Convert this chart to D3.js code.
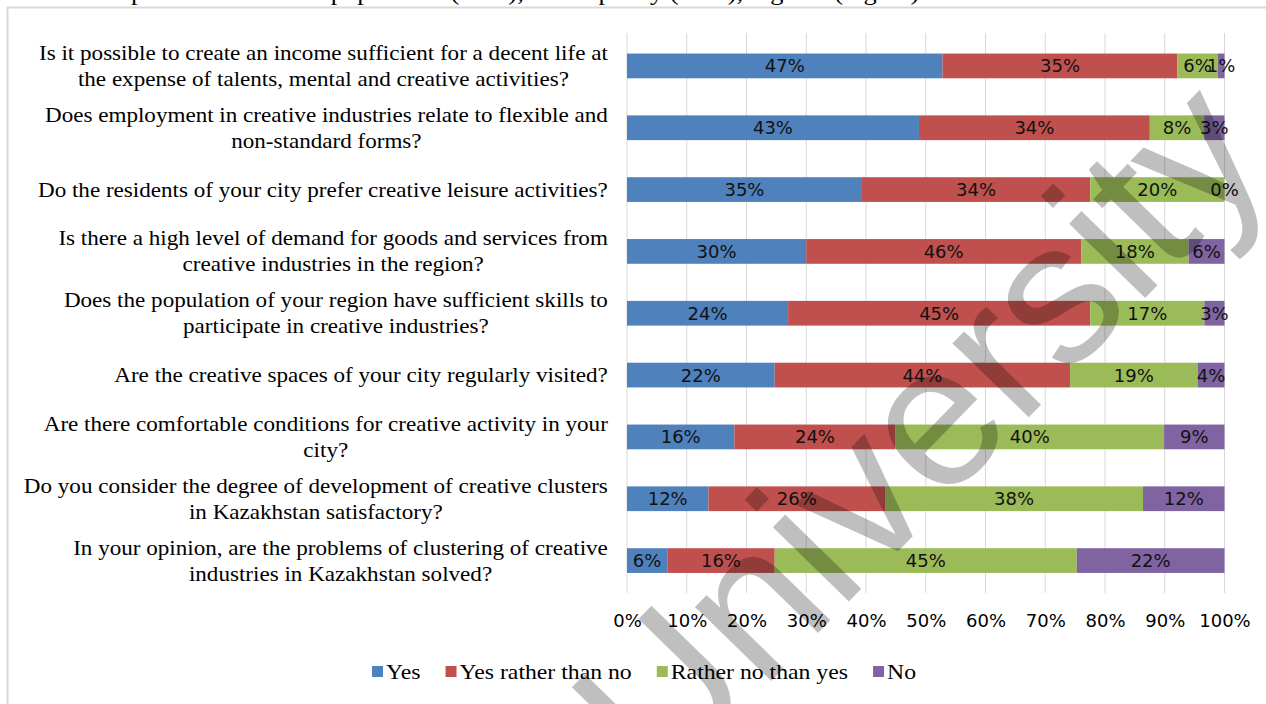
<!DOCTYPE html>
<html>
<head>
<meta charset="utf-8">
<script src="https://cdn.jsdelivr.net/npm/d3@7"></script>
<style>
  html, body { margin: 0; padding: 0; background: #fff; overflow: hidden; }
  svg { display: block; }
</style>
</head>
<body>
<svg id="chart" width="1266" height="704"></svg>
<script>
// Survey questions, each already broken into the lines they are printed on
const questions = [
  ["Is it possible to create an income sufficient for a decent life at", "the expense of talents, mental and creative activities?"],
  ["Does employment in creative industries relate to flexible and", "non-standard forms?"],
  ["Do the residents of your city prefer creative leisure activities?"],
  ["Is there a high level  of demand for goods and services from", "creative industries in the region?"],
  ["Does the population of your region have sufficient skills to", "participate in creative industries?"],
  ["Are the creative spaces of your city regularly visited?"],
  ["Are there comfortable conditions for creative activity in your", "city?"],
  ["Do you consider the degree of development of creative clusters", "in Kazakhstan satisfactory?"],
  ["In your opinion, are the problems of clustering of creative", "industries in Kazakhstan solved?"]
];

// Answer shares, in %
const yesValues        = [47, 43, 35, 30, 24, 22, 16, 12, 6];
const yesRatherValues  = [35, 34, 34, 46, 45, 44, 24, 26, 16];
const ratherNoValues   = [6, 8, 20, 18, 17, 19, 40, 38, 45];
const noValues         = [1, 3, 0, 6, 3, 4, 9, 12, 22];

const seriesNames  = ["Yes", "Yes rather than no", "Rather no than yes", "No"];
const seriesColors = ["#4f81bd", "#c0504d", "#9bbb59", "#8064a2"];
const tickLabels   = ["0%", "10%", "20%", "30%", "40%", "50%", "60%", "70%", "80%", "90%", "100%"];

const captionText = "Opinion of the local population (in %), and capacity (in %), regions (region)";
const watermarkText = "University";

// ---------------------------------------------------------------------------
const svg = d3.select("#chart");
const serif = "'Liberation Serif', 'Times New Roman', serif";
const sans = "'DejaVu Sans', Verdana, sans-serif";

const rows = questions.map((q, i) => ({
  index: i,
  [seriesNames[0]]: yesValues[i],
  [seriesNames[1]]: yesRatherValues[i],
  [seriesNames[2]]: ratherNoValues[i],
  [seriesNames[3]]: noValues[i]
}));

// 100% stacked layout: each row is normalised to its own total
const stacked = d3.stack().keys(seriesNames).offset(d3.stackOffsetExpand)(rows);

const x = d3.scaleLinear().domain([0, 1]).range([627, 1224.5]);
const y = d3.scaleBand().domain(d3.range(questions.length))
  .range([35, 591.5]).paddingInner(0.6).paddingOuter(0.3);
const color = d3.scaleOrdinal().domain(seriesNames).range(seriesColors);

svg.append("rect").attr("width", 1266).attr("height", 704).attr("fill", "#fff");

// Caption line running off the top edge
svg.append("text")
  .attr("transform", "translate(112,0) scale(1.15,1)")
  .attr("font-family", serif).attr("font-size", 23)
  .attr("fill", "#000")
  .text(captionText);

// Outer frame
svg.append("rect")
  .attr("x", 7.5).attr("y", 7.5)
  .attr("width", 1300).attr("height", 720)
  .attr("fill", "none").attr("stroke", "#d9d9d9").attr("stroke-width", 2);

// Vertical gridlines
const tickVals = d3.range(0, 11).map(d => d / 10);
svg.append("g")
  .selectAll("line")
  .data(tickVals)
  .join("line")
  .attr("x1", d => x(d)).attr("x2", d => x(d))
  .attr("y1", 33).attr("y2", 593)
  .attr("stroke", "#d9d9d9").attr("stroke-width", 1);

// Bottom axis labels
const xAxis = d3.axisBottom(x).tickValues(tickVals)
  .tickFormat((d, i) => tickLabels[i]).tickSize(0).tickPadding(0);
const axisG = svg.append("g").attr("transform", "translate(0,593)").call(xAxis);
axisG.select(".domain").remove();
axisG.selectAll("text")
  .attr("font-family", sans).attr("font-size", 18)
  .attr("fill", "#000").attr("dy", null).attr("y", 34);

// Bars
const layers = svg.append("g").selectAll("g")
  .data(stacked)
  .join("g")
  .attr("fill", d => color(d.key));

layers.selectAll("rect")
  .data(d => d)
  .join("rect")
  .attr("x", d => x(d[0]))
  .attr("width", d => x(d[1]) - x(d[0]))
  .attr("y", d => y(d.data.index))
  .attr("height", y.bandwidth());

// Value labels centred in each segment
const labelG = svg.append("g");
stacked.forEach(layer => {
  labelG.selectAll(null)
    .data(layer)
    .join("text")
    .attr("x", d => x((d[0] + d[1]) / 2))
    .attr("y", d => y(d.data.index) + y.bandwidth() / 2)
    .attr("dy", "0.36em")
    .attr("text-anchor", "middle")
    .attr("font-family", sans).attr("font-size", 18)
    .attr("fill", "#111")
    .text(d => d.data[layer.key] + "%");
});

// Question labels: block right-aligned against the plot, lines centred in the block
const labelRight = 608;
const lineHeight = 26;
const stretch = 1.1;
questions.forEach((lines, i) => {
  const cy = y(i) + y.bandwidth() / 2;
  const g = svg.append("g");
  const texts = lines.map((line, k) => g.append("text")
    .attr("x", 0)
    .attr("y", (k - (lines.length - 1) / 2) * lineHeight)
    .attr("dy", "0.33em")
    .attr("text-anchor", "middle")
    .attr("font-family", serif).attr("font-size", 21)
    .attr("fill", "#000")
    .text(line));
  const w = d3.max(texts, t => t.node().getComputedTextLength()) * stretch;
  g.attr("transform", `translate(${labelRight - w / 2},${cy}) scale(${stretch},1)`);
});

// Legend
const legendY = 672;
const legendStretch = 1.13;
const legend = svg.append("g");
let lx = 372;
seriesNames.forEach((name, i) => {
  legend.append("rect")
    .attr("x", lx).attr("y", legendY - 6)
    .attr("width", 11).attr("height", 11)
    .attr("fill", seriesColors[i]);
  const t = legend.append("text")
    .attr("font-family", serif).attr("font-size", 21)
    .attr("fill", "#000")
    .attr("dy", "0.33em")
    .text(name);
  const w = t.node().getComputedTextLength() * legendStretch;
  t.attr("transform", `translate(${lx + 14},${legendY}) scale(${legendStretch},1)`);
  lx += 14 + w + 25;
});

// Diagonal watermark across the chart
svg.append("text")
  .attr("transform", "translate(660,795) rotate(-45.7)")
  .attr("font-family", "'Liberation Sans', Arial, sans-serif")
  .attr("font-size", 201)
  .attr("fill", "#000").attr("fill-opacity", 0.25)
  .text(watermarkText);
</script>
</body>
</html>
